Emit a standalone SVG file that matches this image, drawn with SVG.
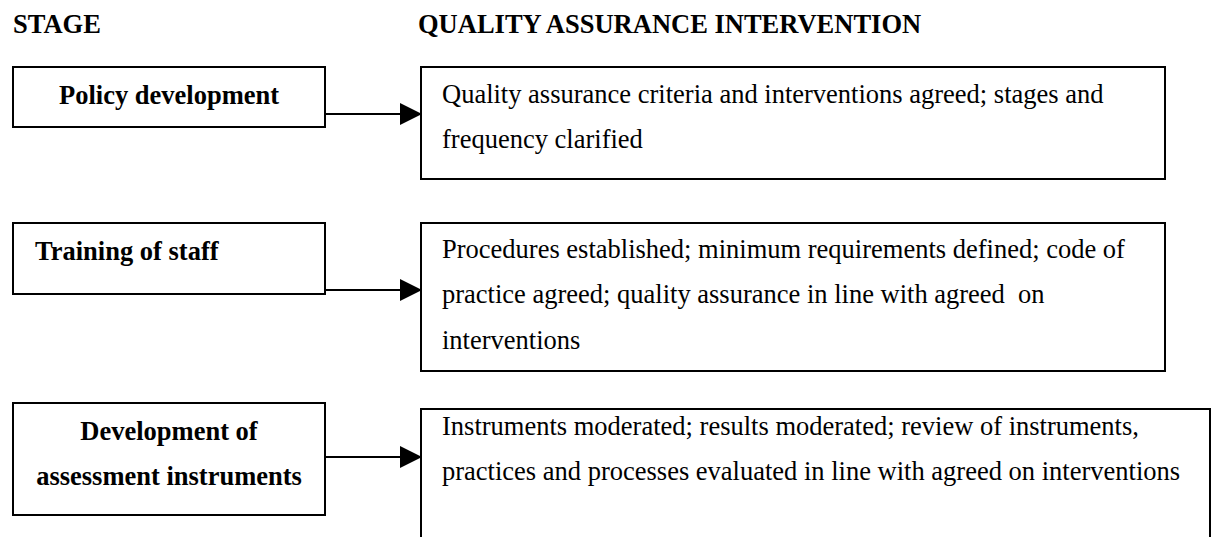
<svg xmlns="http://www.w3.org/2000/svg" width="1214" height="537" viewBox="0 0 1214 537">
<style>
.box{fill:#fff;stroke:#000;stroke-width:2}
.t{font-family:"Liberation Serif","Times New Roman",serif;font-size:26.5px;fill:#000;white-space:pre}
.b{font-weight:bold}
.c{stroke:#000;stroke-width:2;fill:none}
</style>
<defs>
<marker id="ah" markerUnits="userSpaceOnUse" markerWidth="22" markerHeight="22" viewBox="0 0 22 22" refX="21" refY="11" orient="auto">
<path d="M0,0 L22,11 L0,22 Z" fill="#000"/>
</marker>
</defs>
<rect width="1214" height="537" fill="#fff"/>
<g id="headers">
<text class="t b" x="13" y="33">STAGE</text>
<text class="t b" x="418" y="33">QUALITY ASSURANCE INTERVENTION</text>
</g>
<g id="connectors">
<line class="c" x1="325" y1="114" x2="421" y2="114" marker-end="url(#ah)"/>
<line class="c" x1="325" y1="290" x2="421" y2="290" marker-end="url(#ah)"/>
<line class="c" x1="325" y1="457" x2="421" y2="457" marker-end="url(#ah)"/>
</g>
<g id="stage1">
<rect class="box" x="13" y="67" width="312" height="60"/>
<text class="t b" x="169" y="104" text-anchor="middle">Policy development</text>
</g>
<g id="qa1">
<rect class="box" x="421" y="67" width="744" height="112"/>
<text class="t" x="442" y="103">Quality assurance criteria and interventions agreed; stages and</text>
<text class="t" x="442" y="148">frequency clarified</text>
</g>
<g id="stage2">
<rect class="box" x="13" y="223" width="312" height="71"/>
<text class="t b" x="35" y="260">Training of staff</text>
</g>
<g id="qa2">
<rect class="box" x="421" y="223" width="744" height="148"/>
<text class="t" x="442" y="258">Procedures established; minimum requirements defined; code of</text>
<text class="t" x="442" y="303" xml:space="preserve">practice agreed; quality assurance in line with agreed  on</text>
<text class="t" x="442" y="349">interventions</text>
</g>
<g id="stage3">
<rect class="box" x="13" y="403" width="312" height="112"/>
<text class="t b" x="169" y="440" text-anchor="middle">Development of</text>
<text class="t b" x="169" y="485" text-anchor="middle">assessment instruments</text>
</g>
<g id="qa3">
<rect class="box" x="421" y="409" width="789" height="140"/>
<text class="t" x="442" y="435">Instruments moderated; results moderated; review of instruments,</text>
<text class="t" x="442" y="480">practices and processes evaluated in line with agreed on interventions</text>
</g>
</svg>
